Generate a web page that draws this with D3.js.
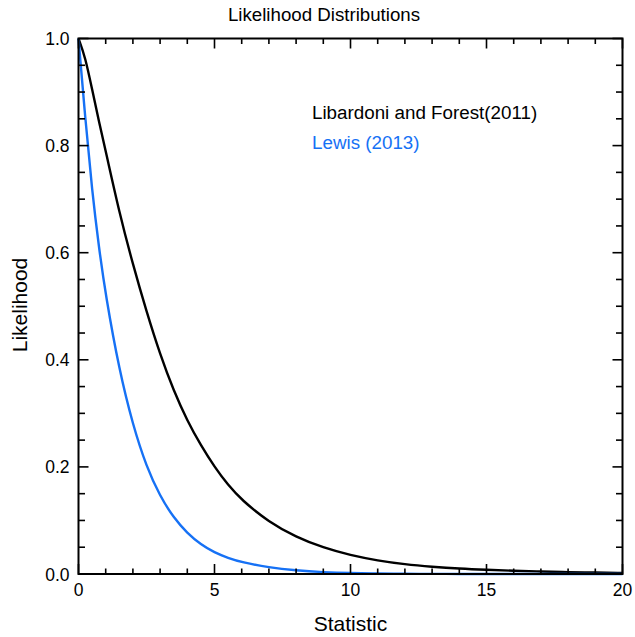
<!DOCTYPE html>
<html><head><meta charset="utf-8">
<script src="https://cdn.jsdelivr.net/npm/d3@7"></script>
<style>body{margin:0;background:#fff}svg{display:block}text{font-family:"Liberation Sans",Arial,Helvetica,sans-serif}</style>
</head><body><svg id="c" width="635" height="637"></svg>
<script>
const xs = [0,0.25,0.5,0.75,1,1.5,2,2.5,3,3.5,4,4.5,5,5.5,6,7,8,9,10,11,12,13,14,15,16,17,18,19,20];
const libardoni = [1.0,0.965,0.905,0.845,0.79,0.675,0.578,0.49,0.41,0.342,0.286,0.24,0.2,0.166,0.138,0.097,0.069,0.049,0.035,0.025,0.018,0.0135,0.010,0.0078,0.006,0.0046,0.0035,0.0027,0.002];
const lewis = [1.0,0.85,0.715,0.61,0.52,0.38,0.278,0.2,0.145,0.105,0.076,0.055,0.04,0.03,0.022,0.012,0.0065,0.0033,0.0016,0.0008,0.0004,0.0002,0.0001,0,0,0,0,0,0];
const seriesNames = ["Libardoni and Forest(2011)","Lewis (2013)"];
const seriesColors = ["#000000","#1671f5"];
const xMajor = [0,5,10,15,20];
const yMajor = [0,0.2,0.4,0.6,0.8,1.0];

const svg = d3.select("#c");
const L=78.5,R=622.5,T=38.5,B=574;
const x = d3.scaleLinear().domain([0,20]).range([L,R]);
const y = d3.scaleLinear().domain([0,1]).range([B,T]);

const line = d3.line().x(d=>x(d[0])).y(d=>y(d[1])).curve(d3.curveBasis);
[libardoni,lewis].forEach((s,i)=>{
  svg.append("path").datum(xs.map((v,j)=>[v,s[j]])).attr("d",line)
    .attr("fill","none").attr("stroke",seriesColors[i]).attr("stroke-width",2.4);
});

// ticks (inward, all four sides)
const g = svg.append("g").attr("stroke","#000").attr("stroke-width",1.6);
d3.range(0,21,1).forEach(v=>{
  const len = v%5===0?10:5.5;
  g.append("line").attr("x1",x(v)).attr("x2",x(v)).attr("y1",B).attr("y2",B-len);
  g.append("line").attr("x1",x(v)).attr("x2",x(v)).attr("y1",T).attr("y2",T+len);
});
d3.range(0,21,1).map(v=>v*0.05).forEach(v=>{
  const major = Math.abs(v/0.2-Math.round(v/0.2))<1e-6;
  const len = major?10:6.5;
  g.append("line").attr("y1",y(v)).attr("y2",y(v)).attr("x1",L).attr("x2",L+len);
  g.append("line").attr("y1",y(v)).attr("y2",y(v)).attr("x1",R).attr("x2",R-len);
});
svg.append("rect").attr("x",L).attr("y",T).attr("width",R-L).attr("height",B-T)
  .attr("fill","none").attr("stroke","#000").attr("stroke-width",2);

// tick labels
svg.append("g").selectAll("text").data(xMajor).join("text")
  .attr("x",d=>x(d)).attr("y",596).attr("text-anchor","middle").attr("font-size",17.5).text(d=>d);
svg.append("g").selectAll("text").data(yMajor).join("text")
  .attr("x",69.5).attr("y",d=>y(d)+6.5).attr("text-anchor","end").attr("font-size",17.5).text(d=>d.toFixed(1));

svg.append("text").attr("x",324).attr("y",21).attr("text-anchor","middle").attr("font-size",18.7).text("Likelihood Distributions");
svg.append("text").attr("x",(L+R)/2).attr("y",631).attr("text-anchor","middle").attr("font-size",21).text("Statistic");
svg.append("text").attr("transform",`translate(27,305) rotate(-90)`).attr("text-anchor","middle").attr("font-size",21).text("Likelihood");

seriesNames.forEach((n,i)=>{
  svg.append("text").attr("x",312).attr("y",119+i*30).attr("font-size",18.8).attr("fill",seriesColors[i]).text(n);
});
</script></body></html>
